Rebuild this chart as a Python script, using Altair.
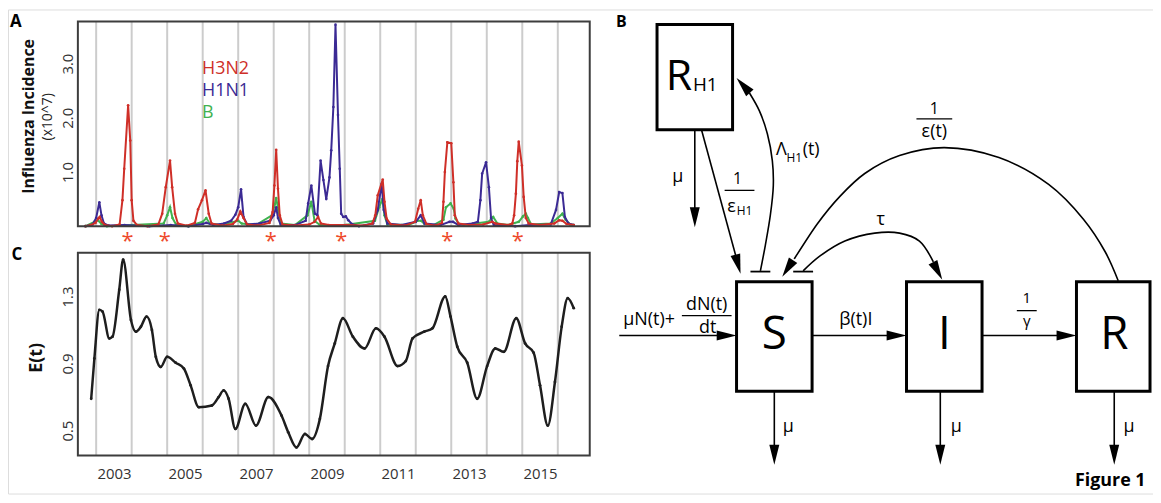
import altair as alt
import pandas as pd
import numpy as np

# ---------------- Panel A: influenza incidence (x10^7) ----------------
H3N2_T = [2002.70, 2002.85, 2002.98, 2003.06, 2003.10, 2003.16, 2003.25, 2003.45, 2003.66, 2003.74,
          2003.79, 2003.90, 2003.96, 2004.00, 2004.05, 2004.15, 2004.45, 2004.75, 2004.86, 2004.96,
          2005.08, 2005.14, 2005.22, 2005.30, 2005.55, 2005.78, 2005.87, 2005.98, 2006.08, 2006.17,
          2006.25, 2006.55, 2006.85, 2006.97, 2007.06, 2007.15, 2007.25, 2007.55, 2007.88, 2007.97,
          2008.02, 2008.07, 2008.12, 2008.17, 2008.25, 2008.60, 2009.00, 2009.15, 2009.25, 2009.33,
          2009.55, 2010.05, 2010.55, 2010.78, 2010.86, 2010.93, 2011.07, 2011.12, 2011.18, 2011.30,
          2011.70, 2011.98, 2012.07, 2012.14, 2012.20, 2012.30, 2012.55, 2012.74, 2012.78, 2012.82,
          2012.89, 2013.00, 2013.06, 2013.10, 2013.20, 2013.50, 2013.90, 2014.15, 2014.25, 2014.60,
          2014.72, 2014.77, 2014.82, 2014.86, 2014.90, 2014.99, 2015.04, 2015.10, 2015.18, 2015.50,
          2015.90, 2016.04, 2016.13, 2016.25, 2016.45]
H3N2_V = [0.00, 0.02, 0.06, 0.14, 0.17, 0.08, 0.02, 0.00, 0.03, 0.48,
          1.06, 2.23, 1.58, 0.48, 0.10, 0.02, 0.00, 0.03, 0.23, 0.72,
          1.21, 0.72, 0.23, 0.05, 0.01, 0.06, 0.31, 0.48, 0.66, 0.23,
          0.05, 0.01, 0.04, 0.12, 0.27, 0.15, 0.03, 0.01, 0.06, 0.26,
          0.75, 1.41, 0.69, 0.20, 0.03, 0.01, 0.03, 0.08, 0.17, 0.05,
          0.02, 0.02, 0.01, 0.05, 0.20, 0.57, 0.86, 0.45, 0.14, 0.03,
          0.01, 0.08, 0.32, 0.48, 0.20, 0.04, 0.01, 0.06, 0.45, 1.00,
          1.55, 1.53, 0.81, 0.20, 0.05, 0.02, 0.03, 0.08, 0.05, 0.02,
          0.05, 0.20, 0.60, 1.20, 1.56, 1.12, 0.54, 0.15, 0.05, 0.02,
          0.05, 0.11, 0.10, 0.04, 0.02]

H1N1_T = [2002.70, 2002.90, 2003.00, 2003.09, 2003.15, 2003.22, 2003.35, 2003.80, 2004.50, 2005.10,
          2005.60, 2006.00, 2006.10, 2006.30, 2006.60, 2006.80, 2006.92, 2007.00, 2007.08, 2007.15,
          2007.25, 2007.60, 2007.90, 2008.00, 2008.07, 2008.12, 2008.20, 2008.60, 2008.90, 2008.97,
          2009.06, 2009.16, 2009.23, 2009.32, 2009.40, 2009.48, 2009.57, 2009.62, 2009.68, 2009.74,
          2009.81, 2009.86, 2009.90, 2009.96, 2010.03, 2010.10, 2010.20, 2010.40, 2010.80, 2010.93,
          2011.04, 2011.10, 2011.20, 2011.60, 2012.00, 2012.14, 2012.25, 2012.70, 2012.95, 2013.05,
          2013.20, 2013.60, 2013.75, 2013.82, 2013.87, 2013.98, 2014.06, 2014.12, 2014.20, 2014.80,
          2015.20, 2015.80, 2015.95, 2016.04, 2016.13, 2016.20, 2016.30, 2016.45]
H1N1_V = [0.00, 0.03, 0.15, 0.44, 0.20, 0.05, 0.01, 0.02, 0.00, 0.02,
          0.00, 0.04, 0.06, 0.02, 0.05, 0.10, 0.21, 0.35, 0.68, 0.17,
          0.03, 0.05, 0.10, 0.20, 0.35, 0.15, 0.02, 0.02, 0.10, 0.42,
          0.75, 0.23, 0.20, 1.21, 0.85, 0.50, 0.90, 1.40, 2.20, 3.72,
          2.05, 1.06, 0.23, 0.17, 0.18, 0.11, 0.04, 0.00, 0.05, 0.30,
          0.78, 0.30, 0.05, 0.02, 0.08, 0.20, 0.05, 0.02, 0.08, 0.08,
          0.02, 0.05, 0.08, 0.48, 0.97, 1.18, 0.72, 0.15, 0.02, 0.00,
          0.02, 0.03, 0.30, 0.63, 0.61, 0.17, 0.05, 0.02]

B_T = [2002.70, 2002.95, 2003.05, 2003.15, 2003.30, 2004.00, 2004.90, 2005.00, 2005.08, 2005.15,
       2005.25, 2005.60, 2006.00, 2006.10, 2006.20, 2006.50, 2007.00, 2007.10, 2007.50, 2007.95,
       2008.03, 2008.07, 2008.13, 2008.20, 2008.60, 2008.95, 2009.06, 2009.15, 2009.30, 2010.00,
       2010.85, 2010.97, 2011.06, 2011.12, 2011.20, 2011.80, 2012.05, 2012.15, 2012.25, 2012.50,
       2012.78, 2012.85, 2012.98, 2013.07, 2013.12, 2013.20, 2013.35, 2014.05, 2014.18, 2014.30,
       2014.60, 2014.90, 2015.02, 2015.10, 2015.16, 2015.25, 2015.80, 2016.00, 2016.13, 2016.22,
       2016.35, 2016.45]
B_V = [0.00, 0.08, 0.11, 0.04, 0.00, 0.02, 0.05, 0.20, 0.35, 0.15,
       0.03, 0.00, 0.08, 0.15, 0.05, 0.02, 0.10, 0.05, 0.02, 0.20,
       0.40, 0.52, 0.30, 0.05, 0.02, 0.20, 0.45, 0.10, 0.02, 0.02,
       0.10, 0.35, 0.50, 0.20, 0.03, 0.02, 0.10, 0.10, 0.04, 0.02,
       0.12, 0.35, 0.42, 0.32, 0.14, 0.05, 0.02, 0.08, 0.17, 0.05,
       0.02, 0.08, 0.18, 0.23, 0.15, 0.03, 0.05, 0.15, 0.23, 0.12,
       0.03, 0.02]

SERIES_NAMES = ["H3N2", "H1N1", "B"]
SERIES_COLORS = ["#cf2f28", "#3b2a94", "#3fb24f"]
LEGEND_T = [2005.98, 2005.98, 2005.98]
LEGEND_V = [2.90, 2.50, 2.09]
STAR_T = [2003.88, 2004.93, 2007.92, 2009.90, 2012.89, 2014.87]
STAR_V = [-0.18] * 6
GRID_YEARS = list(range(2003, 2017))
A_YTICKS = [1.0, 2.0, 3.0]

# ---------------- Panel C: E(t) ----------------
E_T = [2002.86, 2002.95, 2003.09, 2003.18, 2003.37, 2003.46, 2003.65, 2003.76, 2003.98, 2004.12,
       2004.26, 2004.42, 2004.57, 2004.68, 2004.82, 2005.00, 2005.24, 2005.47, 2005.66, 2005.89,
       2006.26, 2006.45, 2006.59, 2006.73, 2006.92, 2007.20, 2007.50, 2007.85, 2008.22, 2008.41,
       2008.64, 2008.88, 2009.08, 2009.30, 2009.53, 2009.72, 2009.95, 2010.23, 2010.56, 2010.88,
       2011.12, 2011.49, 2011.72, 2011.91, 2012.24, 2012.47, 2012.83, 2012.98, 2013.17, 2013.45,
       2013.73, 2014.01, 2014.24, 2014.48, 2014.83, 2015.08, 2015.32, 2015.50, 2015.72, 2015.92,
       2016.11, 2016.28, 2016.45]
E_V = [0.69, 0.93, 1.22, 1.21, 1.05, 1.06, 1.34, 1.52, 1.16, 1.09,
       1.12, 1.18, 1.10, 0.94, 0.88, 0.94, 0.905, 0.87, 0.77, 0.64,
       0.65, 0.70, 0.74, 0.69, 0.51, 0.66, 0.53, 0.70, 0.59, 0.49,
       0.40, 0.48, 0.45, 0.57, 0.885, 1.02, 1.17, 1.06, 0.99, 1.11,
       1.06, 0.885, 0.915, 1.05, 1.09, 1.11, 1.30, 1.18, 1.00, 0.905,
       0.69, 0.885, 0.99, 0.97, 1.17, 1.02, 0.965, 0.77, 0.53, 0.79,
       1.12, 1.29, 1.23]
C_YTICKS = [0.5, 0.9, 1.3]
YEAR_LABELS = [2003, 2005, 2007, 2009, 2011, 2013, 2015]

# ---------------- Panel B: compartment diagram (page pixel units) ----------------
BOX_X1 = [661, 741, 912, 1083]
BOX_X2 = [737, 817, 988, 1157]
BOX_Y1 = [23, 282, 282, 282]
BOX_Y2 = [129, 392, 392, 392]

SHAFT_X1 = [623, 817, 988, 779, 946, 1121, 699, 706]
SHAFT_Y1 = [336, 336, 336, 392, 392, 392, 129, 130]
SHAFT_X2 = [735, 905, 1076, 779, 946, 1121, 699, 743]
SHAFT_Y2 = [336, 336, 336, 458, 458, 458, 220, 266]

BAR_X1 = [729, 922, 686, 1023, 755, 798]
BAR_X2 = [759, 958, 736, 1043, 775, 818]
BAR_Y = [190, 118, 316, 311, 271.7, 271.7]
BAR_W = [1.3, 1.3, 1.3, 1.3, 1.8, 1.8]

HEAD_X = [741, 912, 1083, 779, 946, 1121, 699, 745, 787, 948, 741]
HEAD_Y = [336, 336, 336, 466, 466, 466, 227, 274, 277, 280, 77]
HEAD_ANGLE = [90, 90, 90, 180, 180, 180, 180, 165, 213, 152, 318]

CURVE_LAMBDA = [(765, 271), (770, 245), (775, 215), (778, 185), (777, 160), (772, 133), (764, 110), (754, 92)]
CURVE_TAU = [(808, 271), (825, 256), (850, 241), (880, 233), (905, 233), (925, 241), (939, 262)]
CURVE_EPS = [(1125, 281), (1112, 252), (1090, 219), (1055, 184), (1005, 157), (950, 147), (905, 155),
             (870, 173), (845, 196), (822, 224), (799, 259)]

DIAG_TEXT = ["μ", "1", "ε", "Λ", "(t)", "1", "ε(t)", "τ", "μN(t)+", "dN(t)", "dt", "β(t)I",
             "1", "γ", "μ", "μ", "μ", "S", "I", "R", "R", "H1", "H1", "H1"]
DIAG_TX = [682, 742, 736, 786, 816, 940, 940, 886, 653, 711, 712, 861,
           1033, 1033, 793, 962, 1136, 779, 950, 1121, 683, 709.5, 749, 799]
DIAG_TY = [177, 179, 207, 149, 149, 108, 131, 220, 320, 305, 328, 320,
           298, 321, 428, 428, 428, 336, 336, 336, 76, 84, 211, 157]
DIAG_FS = [18, 16, 18, 18, 18, 16, 18, 18, 18, 18, 18, 18,
           15, 15, 18, 18, 18, 46, 46, 46, 43, 19, 12, 12]

BOLD_TEXT = ["A", "C", "B", "Figure 1"]
BOLD_X = [16, 17, 625, 1117]
BOLD_Y = [21, 255, 21, 482]
BOLD_FS = [17, 17, 16, 18]

FONT = "Open Sans"
W, H = 1152, 487
PAGE = 8


def px(v):
    return v - PAGE


X_DOM = [2002.485, 2016.90]
X_RNG = [px(78.3), px(593.3)]
YA_DOM = [0.0, 3.78]
YA_RNG = [px(226.0), px(20.0)]
YC_DOM = [0.352, 1.561]
YC_RNG = [px(456.7), px(252.7)]


def sc(dom, rng):
    return alt.Scale(domain=dom, range=rng, nice=False, zero=False)


AXIS_A = alt.Axis(values=A_YTICKS, format=".1f", orient="left", offset=-X_RNG[0],
                  ticks=False, tickSize=0, domain=False, grid=False, labelAngle=270,
                  labelAlign="center", labelBaseline="middle", labelPadding=10,
                  labelFontSize=15, labelColor="#333333", labelFont=FONT, labelFlush=False,
                  labelOverlap=False, title="Influenza Incidence", titleFont=FONT,
                  titleFontSize=16, titleFontWeight="bold", titleColor="#111111",
                  titleAngle=270, titleAlign="center", titleBaseline="middle",
                  titleX=px(28.5) - X_RNG[0], titleY=px(115))

AXIS_CY = alt.Axis(values=C_YTICKS, format=".1f", orient="left", offset=-X_RNG[0],
                   ticks=False, tickSize=0, domain=False, grid=False, labelAngle=270,
                   labelAlign="center", labelBaseline="middle", labelPadding=10,
                   labelFontSize=15, labelColor="#333333", labelFont=FONT, labelFlush=False,
                   labelOverlap=False, title="E(t)", titleFont=FONT, titleFontSize=18,
                   titleFontWeight="bold", titleColor="#111111", titleAngle=270,
                   titleAlign="center", titleBaseline="middle",
                   titleX=px(36.7) - X_RNG[0], titleY=px(358))

AXIS_CX = alt.Axis(values=[y + 0.5 for y in YEAR_LABELS], labelExpr="floor(datum.value)",
                   orient="bottom", offset=YC_RNG[0] - H, ticks=False, tickSize=0, domain=False,
                   grid=False, labelFontSize=15, labelColor="#333333", labelFont=FONT,
                   labelPadding=11, labelFlush=False, labelOverlap=False, title=None)


def xa(f):
    return alt.X(f"{f}:Q", scale=sc(X_DOM, X_RNG), axis=None)


def ya(f):
    return alt.Y(f"{f}:Q", scale=sc(YA_DOM, YA_RNG), axis=AXIS_A)


def xc(f):
    return alt.X(f"{f}:Q", scale=sc(X_DOM, X_RNG), axis=AXIS_CX)


def yc(f):
    return alt.Y(f"{f}:Q", scale=sc(YC_DOM, YC_RNG), axis=AXIS_CY)


def xb(f):
    return alt.X(f"{f}:Q", scale=sc([PAGE, PAGE + W], [0, W]), axis=None)


def yb(f):
    return alt.Y(f"{f}:Q", scale=sc([PAGE, PAGE + H], [0, H]), axis=None)


# ---------- panel A ----------
grid_a = pd.DataFrame({"t": GRID_YEARS, "v": YA_DOM[0], "hi": YA_DOM[1]})
frame_a = pd.DataFrame({"t": [X_DOM[0]], "x1": [X_DOM[1]], "v": [YA_DOM[0]], "y1": [YA_DOM[1]]})
series = {"H3N2": (H3N2_T, H3N2_V), "H1N1": (H1N1_T, H1N1_V), "B": (B_T, B_V)}

layers_a = [alt.Chart(grid_a).mark_rule(color="#cccccc", strokeWidth=2).encode(
    x=xa("t"), y=ya("v"), y2="hi")]
for name in ["B", "H1N1", "H3N2"]:
    t, v = series[name]
    col = SERIES_COLORS[SERIES_NAMES.index(name)]
    df = pd.DataFrame({"t": t, "v": v})
    layers_a.append(
        alt.Chart(df).mark_line(color=col, strokeWidth=2,
                                point=alt.OverlayMarkDef(size=7, color=col, filled=True)).encode(
            x=xa("t"), y=ya("v")))
leg_df = pd.DataFrame({"t": LEGEND_T, "v": LEGEND_V, "name": SERIES_NAMES, "col": SERIES_COLORS})
layers_a.append(alt.Chart(leg_df).mark_text(font=FONT, fontSize=18, align="left", baseline="middle").encode(
    x=xa("t"), y=ya("v"), text="name:N", color=alt.Color("col:N", scale=None)))
star_df = pd.DataFrame({"t": STAR_T, "v": STAR_V})
layers_a.append(alt.Chart(star_df).mark_text(text="*", font=FONT, fontSize=22, color="#ee4a2c",
                                             baseline="middle", dy=5).encode(x=xa("t"), y=ya("v")))
layers_a.append(alt.Chart(frame_a).mark_rect(fillOpacity=0, stroke="#3d3d3d", strokeWidth=2).encode(
    x=xa("t"), x2="x1", y=ya("v"), y2="y1"))
panel_a = alt.layer(*layers_a)

# ---------- panel C ----------
grid_c = pd.DataFrame({"t": GRID_YEARS, "v": YC_DOM[0], "hi": YC_DOM[1]})
frame_c = pd.DataFrame({"t": [X_DOM[0]], "x1": [X_DOM[1]], "v": [YC_DOM[0]], "y1": [YC_DOM[1]]})
e_df = pd.DataFrame({"t": E_T, "v": E_V})

panel_c = alt.layer(
    alt.Chart(grid_c).mark_rule(color="#cccccc", strokeWidth=2).encode(x=xc("t"), y=yc("v"), y2="hi"),
    alt.Chart(e_df).mark_line(color="#1e1e1e", strokeWidth=2.5, interpolate="monotone",
                              point=alt.OverlayMarkDef(size=8, color="#1e1e1e", filled=True)).encode(
        x=xc("t"), y=yc("v")),
    alt.Chart(frame_c).mark_rect(fillOpacity=0, stroke="#3d3d3d", strokeWidth=2).encode(
        x=xc("t"), x2="x1", y=yc("v"), y2="y1"),
)

# ---------- panel B ----------
box_df = pd.DataFrame({"x1": BOX_X1, "x2": BOX_X2, "y1": BOX_Y1, "y2": BOX_Y2})
shaft_df = pd.DataFrame({"x1": SHAFT_X1, "y1": SHAFT_Y1, "x2": SHAFT_X2, "y2": SHAFT_Y2})
bar_df = pd.DataFrame({"x1": BAR_X1, "x2": BAR_X2, "y": BAR_Y, "w": BAR_W})
head_df = pd.DataFrame({"tx": HEAD_X, "ty": HEAD_Y, "ang": HEAD_ANGLE})
rad = np.deg2rad(head_df["ang"])
head_df["cx"] = head_df["tx"] - 10 * np.sin(rad)
head_df["cy"] = head_df["ty"] + 10 * np.cos(rad)
curve_rows = []
for cid, pts in (("lambda", CURVE_LAMBDA), ("tau", CURVE_TAU), ("eps", CURVE_EPS)):
    for i, (x, y) in enumerate(pts):
        curve_rows.append({"cid": cid, "i": i, "x": x, "y": y})
curve_df = pd.DataFrame(curve_rows)
text_df = pd.DataFrame({"txt": DIAG_TEXT, "x": DIAG_TX, "y": DIAG_TY, "fs": DIAG_FS})
bold_df = pd.DataFrame({"txt": BOLD_TEXT, "x": BOLD_X, "y": BOLD_Y, "fs": BOLD_FS})
rot_df = pd.DataFrame({"txt": ["(x10^7)"], "x": [48.5], "y": [116]})

panel_b = alt.layer(
    alt.Chart(shaft_df).mark_rule(color="black", strokeWidth=1.6).encode(
        x=xb("x1"), y=yb("y1"), x2="x2", y2="y2"),
    alt.Chart(bar_df).mark_rule(color="black").encode(
        x=xb("x1"), x2="x2", y=yb("y"), strokeWidth=alt.StrokeWidth("w:Q", scale=None)),
    alt.Chart(curve_df).mark_line(color="black", strokeWidth=1.6, interpolate="catmull-rom").encode(
        x=xb("x"), y=yb("y"), detail="cid:N", order="i:Q"),
    alt.Chart(head_df).mark_point(shape="M0,-1L0.5,1L-0.5,1Z", size=400, filled=True,
                                  color="black", opacity=1, strokeWidth=0).encode(
        x=xb("cx"), y=yb("cy"), angle=alt.Angle("ang:Q", scale=None)),
    alt.Chart(box_df).mark_rect(fillOpacity=0, stroke="black", strokeWidth=3).encode(
        x=xb("x1"), x2="x2", y=yb("y1"), y2="y2"),
    alt.Chart(text_df).mark_text(font=FONT, color="black", align="center", baseline="middle").encode(
        x=xb("x"), y=yb("y"), text="txt:N", size=alt.Size("fs:Q", scale=None)),
    alt.Chart(bold_df).mark_text(font=FONT, fontWeight="bold", color="black", align="center",
                                 baseline="middle").encode(
        x=xb("x"), y=yb("y"), text="txt:N", size=alt.Size("fs:Q", scale=None)),
    alt.Chart(rot_df).mark_text(font=FONT, fontSize=14, angle=270, color="#222222", align="center",
                                baseline="middle").encode(x=xb("x"), y=yb("y"), text="txt:N"),
)

chart = alt.layer(panel_a, panel_c, panel_b).resolve_scale(
    x="independent", y="independent"
).properties(
    width=W, height=H, padding=0, autosize=alt.AutoSizeParams(type="none")
).configure_view(stroke=None).configure(font=FONT)

chart.save("out.html", embed_options={"renderer": "svg", "actions": False})
